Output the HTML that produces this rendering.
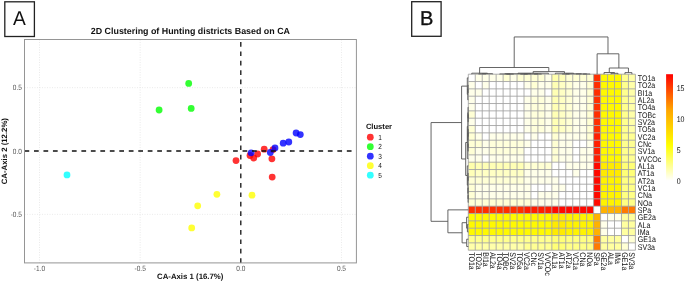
<!DOCTYPE html>
<html><head><meta charset="utf-8"><style>
html,body{margin:0;padding:0;background:#fff;width:685px;height:282px;overflow:hidden}
svg{display:block;will-change:transform;text-rendering:geometricPrecision;font-family:"Liberation Sans",sans-serif}
</style></head><body>
<svg width="685" height="282" viewBox="0 0 685 282">
<rect width="685" height="282" fill="#fff"/>
<rect x="4.8" y="1.8" width="29.6" height="34.7" fill="none" stroke="#222" stroke-width="1.3"/>
<text transform="translate(19.5,24.8) scale(0.96,1)" font-size="20" text-anchor="middle" fill="#111">A</text>
<text x="190.4" y="33.9" font-size="8.9" font-weight="bold" text-anchor="middle" fill="#111">2D Clustering of Hunting districts Based on CA</text>
<line x1="39.50" y1="39.5" x2="39.50" y2="262.9" stroke="#dcdcdc" stroke-width="0.6" stroke-dasharray="1 1.5"/>
<line x1="140.15" y1="39.5" x2="140.15" y2="262.9" stroke="#dcdcdc" stroke-width="0.6" stroke-dasharray="1 1.5"/>
<line x1="341.45" y1="39.5" x2="341.45" y2="262.9" stroke="#dcdcdc" stroke-width="0.6" stroke-dasharray="1 1.5"/>
<line x1="24.5" y1="87.65" x2="356.4" y2="87.65" stroke="#dcdcdc" stroke-width="0.6" stroke-dasharray="1 1.5"/>
<line x1="24.5" y1="214.35" x2="356.4" y2="214.35" stroke="#dcdcdc" stroke-width="0.6" stroke-dasharray="1 1.5"/>
<circle cx="236.0" cy="160.6" r="3.4" fill="#ff0000" fill-opacity="0.8"/>
<circle cx="250.0" cy="155.5" r="3.4" fill="#ff0000" fill-opacity="0.8"/>
<circle cx="253.7" cy="158.0" r="3.4" fill="#ff0000" fill-opacity="0.8"/>
<circle cx="257.6" cy="154.0" r="3.4" fill="#ff0000" fill-opacity="0.8"/>
<circle cx="264.2" cy="149.2" r="3.4" fill="#ff0000" fill-opacity="0.8"/>
<circle cx="273.0" cy="149.6" r="3.4" fill="#ff0000" fill-opacity="0.8"/>
<circle cx="271.9" cy="158.8" r="3.4" fill="#ff0000" fill-opacity="0.8"/>
<circle cx="272.2" cy="177.1" r="3.4" fill="#ff0000" fill-opacity="0.8"/>
<circle cx="188.7" cy="83.4" r="3.4" fill="#00ff00" fill-opacity="0.8"/>
<circle cx="159.1" cy="110.0" r="3.4" fill="#00ff00" fill-opacity="0.8"/>
<circle cx="191.2" cy="108.4" r="3.4" fill="#00ff00" fill-opacity="0.8"/>
<circle cx="251.1" cy="152.8" r="3.4" fill="#0000ff" fill-opacity="0.8"/>
<circle cx="270.3" cy="152.5" r="3.4" fill="#0000ff" fill-opacity="0.8"/>
<circle cx="275.0" cy="147.9" r="3.4" fill="#0000ff" fill-opacity="0.8"/>
<circle cx="283.2" cy="143.2" r="3.4" fill="#0000ff" fill-opacity="0.8"/>
<circle cx="288.8" cy="142.0" r="3.4" fill="#0000ff" fill-opacity="0.8"/>
<circle cx="296.1" cy="133.0" r="3.4" fill="#0000ff" fill-opacity="0.8"/>
<circle cx="300.3" cy="134.6" r="3.4" fill="#0000ff" fill-opacity="0.8"/>
<circle cx="216.9" cy="194.3" r="3.4" fill="#ffff00" fill-opacity="0.8"/>
<circle cx="197.7" cy="205.8" r="3.4" fill="#ffff00" fill-opacity="0.8"/>
<circle cx="191.7" cy="227.9" r="3.4" fill="#ffff00" fill-opacity="0.8"/>
<circle cx="252.0" cy="195.2" r="3.4" fill="#ffff00" fill-opacity="0.8"/>
<circle cx="67.0" cy="174.9" r="3.4" fill="#00ffff" fill-opacity="0.8"/>
<line x1="24.5" y1="151.0" x2="356.4" y2="151.0" stroke="#111" stroke-width="1.3" stroke-dasharray="4.74 4.74"/>
<line x1="240.8" y1="262.9" x2="240.8" y2="39.5" stroke="#111" stroke-width="1.3" stroke-dasharray="4.7 4.7"/>
<rect x="24.5" y="39.5" width="331.90" height="223.40" fill="none" stroke="#959595" stroke-width="1"/>
<text transform="translate(39.50,270.8) scale(0.85,1)" font-size="7.7" text-anchor="middle" fill="#555">-1.0</text>
<text transform="translate(140.15,270.8) scale(0.85,1)" font-size="7.7" text-anchor="middle" fill="#555">-0.5</text>
<text transform="translate(240.80,270.8) scale(0.85,1)" font-size="7.7" text-anchor="middle" fill="#555">0.0</text>
<text transform="translate(341.45,270.8) scale(0.85,1)" font-size="7.7" text-anchor="middle" fill="#555">0.5</text>
<text transform="translate(21.9,90.45) scale(0.85,1)" font-size="7.7" text-anchor="end" fill="#555">0.5</text>
<text transform="translate(21.9,153.80) scale(0.85,1)" font-size="7.7" text-anchor="end" fill="#555">0.0</text>
<text transform="translate(21.9,217.15) scale(0.85,1)" font-size="7.7" text-anchor="end" fill="#555">-0.5</text>
<text x="190.2" y="278.8" font-size="7.8" font-weight="bold" text-anchor="middle" fill="#111">CA-Axis 1 (16.7%)</text>
<text transform="translate(7.2,151.2) rotate(-90)" x="0" y="0" font-size="7.8" font-weight="bold" text-anchor="middle" fill="#111">CA-Axis 2 (12.2%)</text>
<text x="365.9" y="128.5" font-size="7.6" font-weight="bold" fill="#111">Cluster</text>
<circle cx="370.3" cy="137.20" r="3.4" fill="#ff0000" fill-opacity="0.8"/>
<text transform="translate(378.3,139.80) scale(0.88,1)" font-size="7.4" fill="#111">1</text>
<circle cx="370.3" cy="146.70" r="3.4" fill="#00ff00" fill-opacity="0.8"/>
<text transform="translate(378.3,149.30) scale(0.88,1)" font-size="7.4" fill="#111">2</text>
<circle cx="370.3" cy="156.20" r="3.4" fill="#0000ff" fill-opacity="0.8"/>
<text transform="translate(378.3,158.80) scale(0.88,1)" font-size="7.4" fill="#111">3</text>
<circle cx="370.3" cy="165.70" r="3.4" fill="#ffff00" fill-opacity="0.8"/>
<text transform="translate(378.3,168.30) scale(0.88,1)" font-size="7.4" fill="#111">4</text>
<circle cx="370.3" cy="175.20" r="3.4" fill="#00ffff" fill-opacity="0.8"/>
<text transform="translate(378.3,177.80) scale(0.88,1)" font-size="7.4" fill="#111">5</text>
<rect x="411.7" y="1.7" width="29.4" height="34.6" fill="none" stroke="#222" stroke-width="1.3"/>
<text x="426.6" y="24.9" font-size="20" text-anchor="middle" fill="#111" stroke="#111" stroke-width="0.35">B</text>
<rect x="468.30" y="74.20" width="6.96" height="7.33" fill="#ffffff"/>
<rect x="475.26" y="74.20" width="6.96" height="7.33" fill="#ffffe9"/>
<rect x="482.23" y="74.20" width="6.96" height="7.33" fill="#ffffe9"/>
<rect x="489.19" y="74.20" width="6.96" height="7.33" fill="#ffffe9"/>
<rect x="496.15" y="74.20" width="6.96" height="7.33" fill="#ffffe9"/>
<rect x="503.11" y="74.20" width="6.96" height="7.33" fill="#ffffd5"/>
<rect x="510.08" y="74.20" width="6.96" height="7.33" fill="#ffffe9"/>
<rect x="517.04" y="74.20" width="6.96" height="7.33" fill="#ffffd5"/>
<rect x="524.00" y="74.20" width="6.96" height="7.33" fill="#ffffd5"/>
<rect x="530.96" y="74.20" width="6.96" height="7.33" fill="#ffffd5"/>
<rect x="537.92" y="74.20" width="6.96" height="7.33" fill="#ffffd5"/>
<rect x="544.89" y="74.20" width="6.96" height="7.33" fill="#ffffe9"/>
<rect x="551.85" y="74.20" width="6.96" height="7.33" fill="#ffffac"/>
<rect x="558.81" y="74.20" width="6.96" height="7.33" fill="#ffffb8"/>
<rect x="565.77" y="74.20" width="6.96" height="7.33" fill="#ffffd5"/>
<rect x="572.74" y="74.20" width="6.96" height="7.33" fill="#ffffd5"/>
<rect x="579.70" y="74.20" width="6.96" height="7.33" fill="#ffffd5"/>
<rect x="586.66" y="74.20" width="6.96" height="7.33" fill="#ffffd5"/>
<rect x="593.62" y="74.20" width="6.96" height="7.33" fill="#ff2f00"/>
<rect x="600.59" y="74.20" width="6.96" height="7.33" fill="#fff900"/>
<rect x="607.55" y="74.20" width="6.96" height="7.33" fill="#fff900"/>
<rect x="614.51" y="74.20" width="6.96" height="7.33" fill="#fff900"/>
<rect x="621.48" y="74.20" width="6.96" height="7.33" fill="#ffff8e"/>
<rect x="628.44" y="74.20" width="6.96" height="7.33" fill="#ffffa9"/>
<rect x="468.30" y="81.53" width="6.96" height="7.33" fill="#ffffe9"/>
<rect x="475.26" y="81.53" width="6.96" height="7.33" fill="#ffffff"/>
<rect x="482.23" y="81.53" width="6.96" height="7.33" fill="#ffffe9"/>
<rect x="489.19" y="81.53" width="6.96" height="7.33" fill="#ffffff"/>
<rect x="496.15" y="81.53" width="6.96" height="7.33" fill="#ffffff"/>
<rect x="503.11" y="81.53" width="6.96" height="7.33" fill="#ffffff"/>
<rect x="510.08" y="81.53" width="6.96" height="7.33" fill="#ffffff"/>
<rect x="517.04" y="81.53" width="6.96" height="7.33" fill="#ffffff"/>
<rect x="524.00" y="81.53" width="6.96" height="7.33" fill="#ffffe9"/>
<rect x="530.96" y="81.53" width="6.96" height="7.33" fill="#ffffd5"/>
<rect x="537.92" y="81.53" width="6.96" height="7.33" fill="#ffffe9"/>
<rect x="544.89" y="81.53" width="6.96" height="7.33" fill="#ffffe9"/>
<rect x="551.85" y="81.53" width="6.96" height="7.33" fill="#ffffb5"/>
<rect x="558.81" y="81.53" width="6.96" height="7.33" fill="#ffffc4"/>
<rect x="565.77" y="81.53" width="6.96" height="7.33" fill="#ffffd5"/>
<rect x="572.74" y="81.53" width="6.96" height="7.33" fill="#ffffe9"/>
<rect x="579.70" y="81.53" width="6.96" height="7.33" fill="#ffffe9"/>
<rect x="586.66" y="81.53" width="6.96" height="7.33" fill="#ffffd5"/>
<rect x="593.62" y="81.53" width="6.96" height="7.33" fill="#ff2f00"/>
<rect x="600.59" y="81.53" width="6.96" height="7.33" fill="#fff900"/>
<rect x="607.55" y="81.53" width="6.96" height="7.33" fill="#fff900"/>
<rect x="614.51" y="81.53" width="6.96" height="7.33" fill="#fff900"/>
<rect x="621.48" y="81.53" width="6.96" height="7.33" fill="#ffff8e"/>
<rect x="628.44" y="81.53" width="6.96" height="7.33" fill="#ffffa9"/>
<rect x="468.30" y="88.87" width="6.96" height="7.33" fill="#ffffe9"/>
<rect x="475.26" y="88.87" width="6.96" height="7.33" fill="#ffffe9"/>
<rect x="482.23" y="88.87" width="6.96" height="7.33" fill="#ffffff"/>
<rect x="489.19" y="88.87" width="6.96" height="7.33" fill="#ffffff"/>
<rect x="496.15" y="88.87" width="6.96" height="7.33" fill="#ffffff"/>
<rect x="503.11" y="88.87" width="6.96" height="7.33" fill="#ffffff"/>
<rect x="510.08" y="88.87" width="6.96" height="7.33" fill="#ffffff"/>
<rect x="517.04" y="88.87" width="6.96" height="7.33" fill="#ffffff"/>
<rect x="524.00" y="88.87" width="6.96" height="7.33" fill="#ffffff"/>
<rect x="530.96" y="88.87" width="6.96" height="7.33" fill="#ffffe9"/>
<rect x="537.92" y="88.87" width="6.96" height="7.33" fill="#ffffe9"/>
<rect x="544.89" y="88.87" width="6.96" height="7.33" fill="#ffffff"/>
<rect x="551.85" y="88.87" width="6.96" height="7.33" fill="#ffffb5"/>
<rect x="558.81" y="88.87" width="6.96" height="7.33" fill="#ffffc4"/>
<rect x="565.77" y="88.87" width="6.96" height="7.33" fill="#ffffd5"/>
<rect x="572.74" y="88.87" width="6.96" height="7.33" fill="#ffffe9"/>
<rect x="579.70" y="88.87" width="6.96" height="7.33" fill="#ffffe9"/>
<rect x="586.66" y="88.87" width="6.96" height="7.33" fill="#ffffd5"/>
<rect x="593.62" y="88.87" width="6.96" height="7.33" fill="#ff2f00"/>
<rect x="600.59" y="88.87" width="6.96" height="7.33" fill="#fff900"/>
<rect x="607.55" y="88.87" width="6.96" height="7.33" fill="#fff900"/>
<rect x="614.51" y="88.87" width="6.96" height="7.33" fill="#fff900"/>
<rect x="621.48" y="88.87" width="6.96" height="7.33" fill="#ffff8e"/>
<rect x="628.44" y="88.87" width="6.96" height="7.33" fill="#ffffa9"/>
<rect x="468.30" y="96.20" width="6.96" height="7.33" fill="#ffffe9"/>
<rect x="475.26" y="96.20" width="6.96" height="7.33" fill="#ffffff"/>
<rect x="482.23" y="96.20" width="6.96" height="7.33" fill="#ffffff"/>
<rect x="489.19" y="96.20" width="6.96" height="7.33" fill="#ffffff"/>
<rect x="496.15" y="96.20" width="6.96" height="7.33" fill="#ffffff"/>
<rect x="503.11" y="96.20" width="6.96" height="7.33" fill="#ffffff"/>
<rect x="510.08" y="96.20" width="6.96" height="7.33" fill="#ffffff"/>
<rect x="517.04" y="96.20" width="6.96" height="7.33" fill="#ffffff"/>
<rect x="524.00" y="96.20" width="6.96" height="7.33" fill="#ffffe9"/>
<rect x="530.96" y="96.20" width="6.96" height="7.33" fill="#ffffdb"/>
<rect x="537.92" y="96.20" width="6.96" height="7.33" fill="#ffffdb"/>
<rect x="544.89" y="96.20" width="6.96" height="7.33" fill="#ffffe9"/>
<rect x="551.85" y="96.20" width="6.96" height="7.33" fill="#ffffb5"/>
<rect x="558.81" y="96.20" width="6.96" height="7.33" fill="#ffffc4"/>
<rect x="565.77" y="96.20" width="6.96" height="7.33" fill="#ffffd5"/>
<rect x="572.74" y="96.20" width="6.96" height="7.33" fill="#ffffe9"/>
<rect x="579.70" y="96.20" width="6.96" height="7.33" fill="#ffffe9"/>
<rect x="586.66" y="96.20" width="6.96" height="7.33" fill="#ffffd5"/>
<rect x="593.62" y="96.20" width="6.96" height="7.33" fill="#ff2f00"/>
<rect x="600.59" y="96.20" width="6.96" height="7.33" fill="#fff900"/>
<rect x="607.55" y="96.20" width="6.96" height="7.33" fill="#fff900"/>
<rect x="614.51" y="96.20" width="6.96" height="7.33" fill="#fff900"/>
<rect x="621.48" y="96.20" width="6.96" height="7.33" fill="#ffff8e"/>
<rect x="628.44" y="96.20" width="6.96" height="7.33" fill="#ffffa9"/>
<rect x="468.30" y="103.53" width="6.96" height="7.33" fill="#ffffe9"/>
<rect x="475.26" y="103.53" width="6.96" height="7.33" fill="#ffffff"/>
<rect x="482.23" y="103.53" width="6.96" height="7.33" fill="#ffffff"/>
<rect x="489.19" y="103.53" width="6.96" height="7.33" fill="#ffffff"/>
<rect x="496.15" y="103.53" width="6.96" height="7.33" fill="#ffffff"/>
<rect x="503.11" y="103.53" width="6.96" height="7.33" fill="#ffffff"/>
<rect x="510.08" y="103.53" width="6.96" height="7.33" fill="#ffffff"/>
<rect x="517.04" y="103.53" width="6.96" height="7.33" fill="#ffffff"/>
<rect x="524.00" y="103.53" width="6.96" height="7.33" fill="#ffffe9"/>
<rect x="530.96" y="103.53" width="6.96" height="7.33" fill="#ffffdb"/>
<rect x="537.92" y="103.53" width="6.96" height="7.33" fill="#ffffdb"/>
<rect x="544.89" y="103.53" width="6.96" height="7.33" fill="#ffffe9"/>
<rect x="551.85" y="103.53" width="6.96" height="7.33" fill="#ffffb5"/>
<rect x="558.81" y="103.53" width="6.96" height="7.33" fill="#ffffc4"/>
<rect x="565.77" y="103.53" width="6.96" height="7.33" fill="#ffffd5"/>
<rect x="572.74" y="103.53" width="6.96" height="7.33" fill="#ffffe9"/>
<rect x="579.70" y="103.53" width="6.96" height="7.33" fill="#ffffe9"/>
<rect x="586.66" y="103.53" width="6.96" height="7.33" fill="#ffffd5"/>
<rect x="593.62" y="103.53" width="6.96" height="7.33" fill="#ff2f00"/>
<rect x="600.59" y="103.53" width="6.96" height="7.33" fill="#fff900"/>
<rect x="607.55" y="103.53" width="6.96" height="7.33" fill="#fff900"/>
<rect x="614.51" y="103.53" width="6.96" height="7.33" fill="#fff900"/>
<rect x="621.48" y="103.53" width="6.96" height="7.33" fill="#ffff8e"/>
<rect x="628.44" y="103.53" width="6.96" height="7.33" fill="#ffffa9"/>
<rect x="468.30" y="110.87" width="6.96" height="7.33" fill="#ffffd5"/>
<rect x="475.26" y="110.87" width="6.96" height="7.33" fill="#ffffff"/>
<rect x="482.23" y="110.87" width="6.96" height="7.33" fill="#ffffff"/>
<rect x="489.19" y="110.87" width="6.96" height="7.33" fill="#ffffff"/>
<rect x="496.15" y="110.87" width="6.96" height="7.33" fill="#ffffff"/>
<rect x="503.11" y="110.87" width="6.96" height="7.33" fill="#ffffff"/>
<rect x="510.08" y="110.87" width="6.96" height="7.33" fill="#ffffff"/>
<rect x="517.04" y="110.87" width="6.96" height="7.33" fill="#ffffff"/>
<rect x="524.00" y="110.87" width="6.96" height="7.33" fill="#ffffe9"/>
<rect x="530.96" y="110.87" width="6.96" height="7.33" fill="#ffffdb"/>
<rect x="537.92" y="110.87" width="6.96" height="7.33" fill="#ffffdb"/>
<rect x="544.89" y="110.87" width="6.96" height="7.33" fill="#ffffe9"/>
<rect x="551.85" y="110.87" width="6.96" height="7.33" fill="#ffffb5"/>
<rect x="558.81" y="110.87" width="6.96" height="7.33" fill="#ffffc4"/>
<rect x="565.77" y="110.87" width="6.96" height="7.33" fill="#ffffd5"/>
<rect x="572.74" y="110.87" width="6.96" height="7.33" fill="#ffffe9"/>
<rect x="579.70" y="110.87" width="6.96" height="7.33" fill="#ffffe9"/>
<rect x="586.66" y="110.87" width="6.96" height="7.33" fill="#ffffd5"/>
<rect x="593.62" y="110.87" width="6.96" height="7.33" fill="#ff2f00"/>
<rect x="600.59" y="110.87" width="6.96" height="7.33" fill="#fff900"/>
<rect x="607.55" y="110.87" width="6.96" height="7.33" fill="#fff900"/>
<rect x="614.51" y="110.87" width="6.96" height="7.33" fill="#fff900"/>
<rect x="621.48" y="110.87" width="6.96" height="7.33" fill="#ffff8e"/>
<rect x="628.44" y="110.87" width="6.96" height="7.33" fill="#ffffa9"/>
<rect x="468.30" y="118.20" width="6.96" height="7.33" fill="#ffffe9"/>
<rect x="475.26" y="118.20" width="6.96" height="7.33" fill="#ffffff"/>
<rect x="482.23" y="118.20" width="6.96" height="7.33" fill="#ffffff"/>
<rect x="489.19" y="118.20" width="6.96" height="7.33" fill="#ffffff"/>
<rect x="496.15" y="118.20" width="6.96" height="7.33" fill="#ffffff"/>
<rect x="503.11" y="118.20" width="6.96" height="7.33" fill="#ffffff"/>
<rect x="510.08" y="118.20" width="6.96" height="7.33" fill="#ffffff"/>
<rect x="517.04" y="118.20" width="6.96" height="7.33" fill="#ffffff"/>
<rect x="524.00" y="118.20" width="6.96" height="7.33" fill="#ffffe9"/>
<rect x="530.96" y="118.20" width="6.96" height="7.33" fill="#ffffdb"/>
<rect x="537.92" y="118.20" width="6.96" height="7.33" fill="#ffffdb"/>
<rect x="544.89" y="118.20" width="6.96" height="7.33" fill="#ffffe9"/>
<rect x="551.85" y="118.20" width="6.96" height="7.33" fill="#ffffb5"/>
<rect x="558.81" y="118.20" width="6.96" height="7.33" fill="#ffffc4"/>
<rect x="565.77" y="118.20" width="6.96" height="7.33" fill="#ffffd5"/>
<rect x="572.74" y="118.20" width="6.96" height="7.33" fill="#ffffe9"/>
<rect x="579.70" y="118.20" width="6.96" height="7.33" fill="#ffffe9"/>
<rect x="586.66" y="118.20" width="6.96" height="7.33" fill="#ffffd5"/>
<rect x="593.62" y="118.20" width="6.96" height="7.33" fill="#ff2f00"/>
<rect x="600.59" y="118.20" width="6.96" height="7.33" fill="#fff900"/>
<rect x="607.55" y="118.20" width="6.96" height="7.33" fill="#fff900"/>
<rect x="614.51" y="118.20" width="6.96" height="7.33" fill="#fff900"/>
<rect x="621.48" y="118.20" width="6.96" height="7.33" fill="#ffff8e"/>
<rect x="628.44" y="118.20" width="6.96" height="7.33" fill="#ffffa9"/>
<rect x="468.30" y="125.53" width="6.96" height="7.33" fill="#ffffd5"/>
<rect x="475.26" y="125.53" width="6.96" height="7.33" fill="#ffffff"/>
<rect x="482.23" y="125.53" width="6.96" height="7.33" fill="#ffffff"/>
<rect x="489.19" y="125.53" width="6.96" height="7.33" fill="#ffffff"/>
<rect x="496.15" y="125.53" width="6.96" height="7.33" fill="#ffffff"/>
<rect x="503.11" y="125.53" width="6.96" height="7.33" fill="#ffffff"/>
<rect x="510.08" y="125.53" width="6.96" height="7.33" fill="#ffffff"/>
<rect x="517.04" y="125.53" width="6.96" height="7.33" fill="#ffffff"/>
<rect x="524.00" y="125.53" width="6.96" height="7.33" fill="#ffffe9"/>
<rect x="530.96" y="125.53" width="6.96" height="7.33" fill="#ffffdb"/>
<rect x="537.92" y="125.53" width="6.96" height="7.33" fill="#ffffdb"/>
<rect x="544.89" y="125.53" width="6.96" height="7.33" fill="#ffffe9"/>
<rect x="551.85" y="125.53" width="6.96" height="7.33" fill="#ffffb5"/>
<rect x="558.81" y="125.53" width="6.96" height="7.33" fill="#ffffc4"/>
<rect x="565.77" y="125.53" width="6.96" height="7.33" fill="#ffffd5"/>
<rect x="572.74" y="125.53" width="6.96" height="7.33" fill="#ffffe9"/>
<rect x="579.70" y="125.53" width="6.96" height="7.33" fill="#ffffe9"/>
<rect x="586.66" y="125.53" width="6.96" height="7.33" fill="#ffffd5"/>
<rect x="593.62" y="125.53" width="6.96" height="7.33" fill="#ff2f00"/>
<rect x="600.59" y="125.53" width="6.96" height="7.33" fill="#fff900"/>
<rect x="607.55" y="125.53" width="6.96" height="7.33" fill="#fff900"/>
<rect x="614.51" y="125.53" width="6.96" height="7.33" fill="#fff900"/>
<rect x="621.48" y="125.53" width="6.96" height="7.33" fill="#ffff8e"/>
<rect x="628.44" y="125.53" width="6.96" height="7.33" fill="#ffffa9"/>
<rect x="468.30" y="132.86" width="6.96" height="7.33" fill="#ffffd5"/>
<rect x="475.26" y="132.86" width="6.96" height="7.33" fill="#ffffe9"/>
<rect x="482.23" y="132.86" width="6.96" height="7.33" fill="#ffffff"/>
<rect x="489.19" y="132.86" width="6.96" height="7.33" fill="#ffffe9"/>
<rect x="496.15" y="132.86" width="6.96" height="7.33" fill="#ffffe9"/>
<rect x="503.11" y="132.86" width="6.96" height="7.33" fill="#ffffe9"/>
<rect x="510.08" y="132.86" width="6.96" height="7.33" fill="#ffffe9"/>
<rect x="517.04" y="132.86" width="6.96" height="7.33" fill="#ffffe9"/>
<rect x="524.00" y="132.86" width="6.96" height="7.33" fill="#ffffff"/>
<rect x="530.96" y="132.86" width="6.96" height="7.33" fill="#ffffe9"/>
<rect x="537.92" y="132.86" width="6.96" height="7.33" fill="#ffffff"/>
<rect x="544.89" y="132.86" width="6.96" height="7.33" fill="#ffffff"/>
<rect x="551.85" y="132.86" width="6.96" height="7.33" fill="#ffffd3"/>
<rect x="558.81" y="132.86" width="6.96" height="7.33" fill="#ffffe9"/>
<rect x="565.77" y="132.86" width="6.96" height="7.33" fill="#ffffe9"/>
<rect x="572.74" y="132.86" width="6.96" height="7.33" fill="#ffffe9"/>
<rect x="579.70" y="132.86" width="6.96" height="7.33" fill="#ffffe9"/>
<rect x="586.66" y="132.86" width="6.96" height="7.33" fill="#ffffd5"/>
<rect x="593.62" y="132.86" width="6.96" height="7.33" fill="#ff1e00"/>
<rect x="600.59" y="132.86" width="6.96" height="7.33" fill="#fff900"/>
<rect x="607.55" y="132.86" width="6.96" height="7.33" fill="#fff900"/>
<rect x="614.51" y="132.86" width="6.96" height="7.33" fill="#fff900"/>
<rect x="621.48" y="132.86" width="6.96" height="7.33" fill="#ffff8e"/>
<rect x="628.44" y="132.86" width="6.96" height="7.33" fill="#ffff94"/>
<rect x="468.30" y="140.20" width="6.96" height="7.33" fill="#ffffd5"/>
<rect x="475.26" y="140.20" width="6.96" height="7.33" fill="#ffffd5"/>
<rect x="482.23" y="140.20" width="6.96" height="7.33" fill="#ffffe9"/>
<rect x="489.19" y="140.20" width="6.96" height="7.33" fill="#ffffdb"/>
<rect x="496.15" y="140.20" width="6.96" height="7.33" fill="#ffffdb"/>
<rect x="503.11" y="140.20" width="6.96" height="7.33" fill="#ffffdb"/>
<rect x="510.08" y="140.20" width="6.96" height="7.33" fill="#ffffdb"/>
<rect x="517.04" y="140.20" width="6.96" height="7.33" fill="#ffffdb"/>
<rect x="524.00" y="140.20" width="6.96" height="7.33" fill="#ffffe9"/>
<rect x="530.96" y="140.20" width="6.96" height="7.33" fill="#ffffff"/>
<rect x="537.92" y="140.20" width="6.96" height="7.33" fill="#ffffff"/>
<rect x="544.89" y="140.20" width="6.96" height="7.33" fill="#ffffff"/>
<rect x="551.85" y="140.20" width="6.96" height="7.33" fill="#ffffd3"/>
<rect x="558.81" y="140.20" width="6.96" height="7.33" fill="#ffffe9"/>
<rect x="565.77" y="140.20" width="6.96" height="7.33" fill="#ffffe9"/>
<rect x="572.74" y="140.20" width="6.96" height="7.33" fill="#ffffff"/>
<rect x="579.70" y="140.20" width="6.96" height="7.33" fill="#ffffff"/>
<rect x="586.66" y="140.20" width="6.96" height="7.33" fill="#ffffe9"/>
<rect x="593.62" y="140.20" width="6.96" height="7.33" fill="#ff1e00"/>
<rect x="600.59" y="140.20" width="6.96" height="7.33" fill="#fff900"/>
<rect x="607.55" y="140.20" width="6.96" height="7.33" fill="#fff900"/>
<rect x="614.51" y="140.20" width="6.96" height="7.33" fill="#fff900"/>
<rect x="621.48" y="140.20" width="6.96" height="7.33" fill="#ffff8e"/>
<rect x="628.44" y="140.20" width="6.96" height="7.33" fill="#ffff94"/>
<rect x="468.30" y="147.53" width="6.96" height="7.33" fill="#ffffd5"/>
<rect x="475.26" y="147.53" width="6.96" height="7.33" fill="#ffffe9"/>
<rect x="482.23" y="147.53" width="6.96" height="7.33" fill="#ffffe9"/>
<rect x="489.19" y="147.53" width="6.96" height="7.33" fill="#ffffdb"/>
<rect x="496.15" y="147.53" width="6.96" height="7.33" fill="#ffffdb"/>
<rect x="503.11" y="147.53" width="6.96" height="7.33" fill="#ffffdb"/>
<rect x="510.08" y="147.53" width="6.96" height="7.33" fill="#ffffdb"/>
<rect x="517.04" y="147.53" width="6.96" height="7.33" fill="#ffffdb"/>
<rect x="524.00" y="147.53" width="6.96" height="7.33" fill="#ffffff"/>
<rect x="530.96" y="147.53" width="6.96" height="7.33" fill="#ffffff"/>
<rect x="537.92" y="147.53" width="6.96" height="7.33" fill="#ffffff"/>
<rect x="544.89" y="147.53" width="6.96" height="7.33" fill="#ffffff"/>
<rect x="551.85" y="147.53" width="6.96" height="7.33" fill="#ffffd3"/>
<rect x="558.81" y="147.53" width="6.96" height="7.33" fill="#ffffe9"/>
<rect x="565.77" y="147.53" width="6.96" height="7.33" fill="#ffffe9"/>
<rect x="572.74" y="147.53" width="6.96" height="7.33" fill="#ffffff"/>
<rect x="579.70" y="147.53" width="6.96" height="7.33" fill="#ffffe9"/>
<rect x="586.66" y="147.53" width="6.96" height="7.33" fill="#ffffe9"/>
<rect x="593.62" y="147.53" width="6.96" height="7.33" fill="#ff1e00"/>
<rect x="600.59" y="147.53" width="6.96" height="7.33" fill="#fff900"/>
<rect x="607.55" y="147.53" width="6.96" height="7.33" fill="#fff900"/>
<rect x="614.51" y="147.53" width="6.96" height="7.33" fill="#fff900"/>
<rect x="621.48" y="147.53" width="6.96" height="7.33" fill="#ffff8e"/>
<rect x="628.44" y="147.53" width="6.96" height="7.33" fill="#ffff94"/>
<rect x="468.30" y="154.86" width="6.96" height="7.33" fill="#ffffe9"/>
<rect x="475.26" y="154.86" width="6.96" height="7.33" fill="#ffffe9"/>
<rect x="482.23" y="154.86" width="6.96" height="7.33" fill="#ffffff"/>
<rect x="489.19" y="154.86" width="6.96" height="7.33" fill="#ffffe9"/>
<rect x="496.15" y="154.86" width="6.96" height="7.33" fill="#ffffe9"/>
<rect x="503.11" y="154.86" width="6.96" height="7.33" fill="#ffffe9"/>
<rect x="510.08" y="154.86" width="6.96" height="7.33" fill="#ffffe9"/>
<rect x="517.04" y="154.86" width="6.96" height="7.33" fill="#ffffe9"/>
<rect x="524.00" y="154.86" width="6.96" height="7.33" fill="#ffffff"/>
<rect x="530.96" y="154.86" width="6.96" height="7.33" fill="#ffffff"/>
<rect x="537.92" y="154.86" width="6.96" height="7.33" fill="#ffffff"/>
<rect x="544.89" y="154.86" width="6.96" height="7.33" fill="#ffffff"/>
<rect x="551.85" y="154.86" width="6.96" height="7.33" fill="#ffffd3"/>
<rect x="558.81" y="154.86" width="6.96" height="7.33" fill="#ffffe9"/>
<rect x="565.77" y="154.86" width="6.96" height="7.33" fill="#ffffe9"/>
<rect x="572.74" y="154.86" width="6.96" height="7.33" fill="#ffffff"/>
<rect x="579.70" y="154.86" width="6.96" height="7.33" fill="#ffffe9"/>
<rect x="586.66" y="154.86" width="6.96" height="7.33" fill="#ffffe9"/>
<rect x="593.62" y="154.86" width="6.96" height="7.33" fill="#ff1e00"/>
<rect x="600.59" y="154.86" width="6.96" height="7.33" fill="#fff900"/>
<rect x="607.55" y="154.86" width="6.96" height="7.33" fill="#fff900"/>
<rect x="614.51" y="154.86" width="6.96" height="7.33" fill="#fff900"/>
<rect x="621.48" y="154.86" width="6.96" height="7.33" fill="#ffff8e"/>
<rect x="628.44" y="154.86" width="6.96" height="7.33" fill="#ffff94"/>
<rect x="468.30" y="162.20" width="6.96" height="7.33" fill="#ffffac"/>
<rect x="475.26" y="162.20" width="6.96" height="7.33" fill="#ffffb5"/>
<rect x="482.23" y="162.20" width="6.96" height="7.33" fill="#ffffb5"/>
<rect x="489.19" y="162.20" width="6.96" height="7.33" fill="#ffffb5"/>
<rect x="496.15" y="162.20" width="6.96" height="7.33" fill="#ffffb5"/>
<rect x="503.11" y="162.20" width="6.96" height="7.33" fill="#ffffb5"/>
<rect x="510.08" y="162.20" width="6.96" height="7.33" fill="#ffffb5"/>
<rect x="517.04" y="162.20" width="6.96" height="7.33" fill="#ffffb5"/>
<rect x="524.00" y="162.20" width="6.96" height="7.33" fill="#ffffd3"/>
<rect x="530.96" y="162.20" width="6.96" height="7.33" fill="#ffffd3"/>
<rect x="537.92" y="162.20" width="6.96" height="7.33" fill="#ffffd3"/>
<rect x="544.89" y="162.20" width="6.96" height="7.33" fill="#ffffd3"/>
<rect x="551.85" y="162.20" width="6.96" height="7.33" fill="#ffffff"/>
<rect x="558.81" y="162.20" width="6.96" height="7.33" fill="#ffffff"/>
<rect x="565.77" y="162.20" width="6.96" height="7.33" fill="#ffffe9"/>
<rect x="572.74" y="162.20" width="6.96" height="7.33" fill="#ffffe9"/>
<rect x="579.70" y="162.20" width="6.96" height="7.33" fill="#ffffe9"/>
<rect x="586.66" y="162.20" width="6.96" height="7.33" fill="#ffffe9"/>
<rect x="593.62" y="162.20" width="6.96" height="7.33" fill="#ff0900"/>
<rect x="600.59" y="162.20" width="6.96" height="7.33" fill="#ffea00"/>
<rect x="607.55" y="162.20" width="6.96" height="7.33" fill="#ffea00"/>
<rect x="614.51" y="162.20" width="6.96" height="7.33" fill="#ffea00"/>
<rect x="621.48" y="162.20" width="6.96" height="7.33" fill="#ffff77"/>
<rect x="628.44" y="162.20" width="6.96" height="7.33" fill="#ffff77"/>
<rect x="468.30" y="169.53" width="6.96" height="7.33" fill="#ffffb8"/>
<rect x="475.26" y="169.53" width="6.96" height="7.33" fill="#ffffc4"/>
<rect x="482.23" y="169.53" width="6.96" height="7.33" fill="#ffffc4"/>
<rect x="489.19" y="169.53" width="6.96" height="7.33" fill="#ffffc4"/>
<rect x="496.15" y="169.53" width="6.96" height="7.33" fill="#ffffc4"/>
<rect x="503.11" y="169.53" width="6.96" height="7.33" fill="#ffffc4"/>
<rect x="510.08" y="169.53" width="6.96" height="7.33" fill="#ffffc4"/>
<rect x="517.04" y="169.53" width="6.96" height="7.33" fill="#ffffc4"/>
<rect x="524.00" y="169.53" width="6.96" height="7.33" fill="#ffffe9"/>
<rect x="530.96" y="169.53" width="6.96" height="7.33" fill="#ffffe9"/>
<rect x="537.92" y="169.53" width="6.96" height="7.33" fill="#ffffe9"/>
<rect x="544.89" y="169.53" width="6.96" height="7.33" fill="#ffffe9"/>
<rect x="551.85" y="169.53" width="6.96" height="7.33" fill="#ffffff"/>
<rect x="558.81" y="169.53" width="6.96" height="7.33" fill="#ffffff"/>
<rect x="565.77" y="169.53" width="6.96" height="7.33" fill="#ffffff"/>
<rect x="572.74" y="169.53" width="6.96" height="7.33" fill="#ffffe9"/>
<rect x="579.70" y="169.53" width="6.96" height="7.33" fill="#ffffff"/>
<rect x="586.66" y="169.53" width="6.96" height="7.33" fill="#ffffff"/>
<rect x="593.62" y="169.53" width="6.96" height="7.33" fill="#ff0900"/>
<rect x="600.59" y="169.53" width="6.96" height="7.33" fill="#ffea00"/>
<rect x="607.55" y="169.53" width="6.96" height="7.33" fill="#ffea00"/>
<rect x="614.51" y="169.53" width="6.96" height="7.33" fill="#ffea00"/>
<rect x="621.48" y="169.53" width="6.96" height="7.33" fill="#ffff77"/>
<rect x="628.44" y="169.53" width="6.96" height="7.33" fill="#ffff77"/>
<rect x="468.30" y="176.86" width="6.96" height="7.33" fill="#ffffd5"/>
<rect x="475.26" y="176.86" width="6.96" height="7.33" fill="#ffffd5"/>
<rect x="482.23" y="176.86" width="6.96" height="7.33" fill="#ffffd5"/>
<rect x="489.19" y="176.86" width="6.96" height="7.33" fill="#ffffd5"/>
<rect x="496.15" y="176.86" width="6.96" height="7.33" fill="#ffffd5"/>
<rect x="503.11" y="176.86" width="6.96" height="7.33" fill="#ffffd5"/>
<rect x="510.08" y="176.86" width="6.96" height="7.33" fill="#ffffd5"/>
<rect x="517.04" y="176.86" width="6.96" height="7.33" fill="#ffffd5"/>
<rect x="524.00" y="176.86" width="6.96" height="7.33" fill="#ffffe9"/>
<rect x="530.96" y="176.86" width="6.96" height="7.33" fill="#ffffe9"/>
<rect x="537.92" y="176.86" width="6.96" height="7.33" fill="#ffffe9"/>
<rect x="544.89" y="176.86" width="6.96" height="7.33" fill="#ffffe9"/>
<rect x="551.85" y="176.86" width="6.96" height="7.33" fill="#ffffe9"/>
<rect x="558.81" y="176.86" width="6.96" height="7.33" fill="#ffffff"/>
<rect x="565.77" y="176.86" width="6.96" height="7.33" fill="#ffffff"/>
<rect x="572.74" y="176.86" width="6.96" height="7.33" fill="#ffffff"/>
<rect x="579.70" y="176.86" width="6.96" height="7.33" fill="#ffffff"/>
<rect x="586.66" y="176.86" width="6.96" height="7.33" fill="#ffffff"/>
<rect x="593.62" y="176.86" width="6.96" height="7.33" fill="#ff0900"/>
<rect x="600.59" y="176.86" width="6.96" height="7.33" fill="#fff300"/>
<rect x="607.55" y="176.86" width="6.96" height="7.33" fill="#fff300"/>
<rect x="614.51" y="176.86" width="6.96" height="7.33" fill="#fff300"/>
<rect x="621.48" y="176.86" width="6.96" height="7.33" fill="#ffff82"/>
<rect x="628.44" y="176.86" width="6.96" height="7.33" fill="#ffff88"/>
<rect x="468.30" y="184.19" width="6.96" height="7.33" fill="#ffffd5"/>
<rect x="475.26" y="184.19" width="6.96" height="7.33" fill="#ffffe9"/>
<rect x="482.23" y="184.19" width="6.96" height="7.33" fill="#ffffe9"/>
<rect x="489.19" y="184.19" width="6.96" height="7.33" fill="#ffffe9"/>
<rect x="496.15" y="184.19" width="6.96" height="7.33" fill="#ffffe9"/>
<rect x="503.11" y="184.19" width="6.96" height="7.33" fill="#ffffe9"/>
<rect x="510.08" y="184.19" width="6.96" height="7.33" fill="#ffffe9"/>
<rect x="517.04" y="184.19" width="6.96" height="7.33" fill="#ffffe9"/>
<rect x="524.00" y="184.19" width="6.96" height="7.33" fill="#ffffe9"/>
<rect x="530.96" y="184.19" width="6.96" height="7.33" fill="#ffffff"/>
<rect x="537.92" y="184.19" width="6.96" height="7.33" fill="#ffffff"/>
<rect x="544.89" y="184.19" width="6.96" height="7.33" fill="#ffffff"/>
<rect x="551.85" y="184.19" width="6.96" height="7.33" fill="#ffffe9"/>
<rect x="558.81" y="184.19" width="6.96" height="7.33" fill="#ffffe9"/>
<rect x="565.77" y="184.19" width="6.96" height="7.33" fill="#ffffff"/>
<rect x="572.74" y="184.19" width="6.96" height="7.33" fill="#ffffff"/>
<rect x="579.70" y="184.19" width="6.96" height="7.33" fill="#ffffff"/>
<rect x="586.66" y="184.19" width="6.96" height="7.33" fill="#ffffff"/>
<rect x="593.62" y="184.19" width="6.96" height="7.33" fill="#ff0900"/>
<rect x="600.59" y="184.19" width="6.96" height="7.33" fill="#fff300"/>
<rect x="607.55" y="184.19" width="6.96" height="7.33" fill="#fff300"/>
<rect x="614.51" y="184.19" width="6.96" height="7.33" fill="#fff300"/>
<rect x="621.48" y="184.19" width="6.96" height="7.33" fill="#ffff82"/>
<rect x="628.44" y="184.19" width="6.96" height="7.33" fill="#ffff88"/>
<rect x="468.30" y="191.53" width="6.96" height="7.33" fill="#ffffd5"/>
<rect x="475.26" y="191.53" width="6.96" height="7.33" fill="#ffffe9"/>
<rect x="482.23" y="191.53" width="6.96" height="7.33" fill="#ffffe9"/>
<rect x="489.19" y="191.53" width="6.96" height="7.33" fill="#ffffe9"/>
<rect x="496.15" y="191.53" width="6.96" height="7.33" fill="#ffffe9"/>
<rect x="503.11" y="191.53" width="6.96" height="7.33" fill="#ffffe9"/>
<rect x="510.08" y="191.53" width="6.96" height="7.33" fill="#ffffe9"/>
<rect x="517.04" y="191.53" width="6.96" height="7.33" fill="#ffffe9"/>
<rect x="524.00" y="191.53" width="6.96" height="7.33" fill="#ffffe9"/>
<rect x="530.96" y="191.53" width="6.96" height="7.33" fill="#ffffff"/>
<rect x="537.92" y="191.53" width="6.96" height="7.33" fill="#ffffe9"/>
<rect x="544.89" y="191.53" width="6.96" height="7.33" fill="#ffffe9"/>
<rect x="551.85" y="191.53" width="6.96" height="7.33" fill="#ffffe9"/>
<rect x="558.81" y="191.53" width="6.96" height="7.33" fill="#ffffff"/>
<rect x="565.77" y="191.53" width="6.96" height="7.33" fill="#ffffff"/>
<rect x="572.74" y="191.53" width="6.96" height="7.33" fill="#ffffff"/>
<rect x="579.70" y="191.53" width="6.96" height="7.33" fill="#ffffff"/>
<rect x="586.66" y="191.53" width="6.96" height="7.33" fill="#ffffff"/>
<rect x="593.62" y="191.53" width="6.96" height="7.33" fill="#ff0900"/>
<rect x="600.59" y="191.53" width="6.96" height="7.33" fill="#fff300"/>
<rect x="607.55" y="191.53" width="6.96" height="7.33" fill="#fff300"/>
<rect x="614.51" y="191.53" width="6.96" height="7.33" fill="#fff300"/>
<rect x="621.48" y="191.53" width="6.96" height="7.33" fill="#ffff82"/>
<rect x="628.44" y="191.53" width="6.96" height="7.33" fill="#ffff88"/>
<rect x="468.30" y="198.86" width="6.96" height="7.33" fill="#ffffd5"/>
<rect x="475.26" y="198.86" width="6.96" height="7.33" fill="#ffffd5"/>
<rect x="482.23" y="198.86" width="6.96" height="7.33" fill="#ffffd5"/>
<rect x="489.19" y="198.86" width="6.96" height="7.33" fill="#ffffd5"/>
<rect x="496.15" y="198.86" width="6.96" height="7.33" fill="#ffffd5"/>
<rect x="503.11" y="198.86" width="6.96" height="7.33" fill="#ffffd5"/>
<rect x="510.08" y="198.86" width="6.96" height="7.33" fill="#ffffd5"/>
<rect x="517.04" y="198.86" width="6.96" height="7.33" fill="#ffffd5"/>
<rect x="524.00" y="198.86" width="6.96" height="7.33" fill="#ffffd5"/>
<rect x="530.96" y="198.86" width="6.96" height="7.33" fill="#ffffe9"/>
<rect x="537.92" y="198.86" width="6.96" height="7.33" fill="#ffffe9"/>
<rect x="544.89" y="198.86" width="6.96" height="7.33" fill="#ffffe9"/>
<rect x="551.85" y="198.86" width="6.96" height="7.33" fill="#ffffe9"/>
<rect x="558.81" y="198.86" width="6.96" height="7.33" fill="#ffffff"/>
<rect x="565.77" y="198.86" width="6.96" height="7.33" fill="#ffffff"/>
<rect x="572.74" y="198.86" width="6.96" height="7.33" fill="#ffffff"/>
<rect x="579.70" y="198.86" width="6.96" height="7.33" fill="#ffffff"/>
<rect x="586.66" y="198.86" width="6.96" height="7.33" fill="#ffffff"/>
<rect x="593.62" y="198.86" width="6.96" height="7.33" fill="#ff0900"/>
<rect x="600.59" y="198.86" width="6.96" height="7.33" fill="#fff300"/>
<rect x="607.55" y="198.86" width="6.96" height="7.33" fill="#fff300"/>
<rect x="614.51" y="198.86" width="6.96" height="7.33" fill="#fff300"/>
<rect x="621.48" y="198.86" width="6.96" height="7.33" fill="#ffff82"/>
<rect x="628.44" y="198.86" width="6.96" height="7.33" fill="#ffff88"/>
<rect x="468.30" y="206.19" width="6.96" height="7.33" fill="#ff2f00"/>
<rect x="475.26" y="206.19" width="6.96" height="7.33" fill="#ff2f00"/>
<rect x="482.23" y="206.19" width="6.96" height="7.33" fill="#ff2f00"/>
<rect x="489.19" y="206.19" width="6.96" height="7.33" fill="#ff2f00"/>
<rect x="496.15" y="206.19" width="6.96" height="7.33" fill="#ff2f00"/>
<rect x="503.11" y="206.19" width="6.96" height="7.33" fill="#ff2f00"/>
<rect x="510.08" y="206.19" width="6.96" height="7.33" fill="#ff2f00"/>
<rect x="517.04" y="206.19" width="6.96" height="7.33" fill="#ff2f00"/>
<rect x="524.00" y="206.19" width="6.96" height="7.33" fill="#ff1e00"/>
<rect x="530.96" y="206.19" width="6.96" height="7.33" fill="#ff1e00"/>
<rect x="537.92" y="206.19" width="6.96" height="7.33" fill="#ff1e00"/>
<rect x="544.89" y="206.19" width="6.96" height="7.33" fill="#ff1e00"/>
<rect x="551.85" y="206.19" width="6.96" height="7.33" fill="#ff0900"/>
<rect x="558.81" y="206.19" width="6.96" height="7.33" fill="#ff0900"/>
<rect x="565.77" y="206.19" width="6.96" height="7.33" fill="#ff0900"/>
<rect x="572.74" y="206.19" width="6.96" height="7.33" fill="#ff0900"/>
<rect x="579.70" y="206.19" width="6.96" height="7.33" fill="#ff0900"/>
<rect x="586.66" y="206.19" width="6.96" height="7.33" fill="#ff0900"/>
<rect x="593.62" y="206.19" width="6.96" height="7.33" fill="#ffffff"/>
<rect x="600.59" y="206.19" width="6.96" height="7.33" fill="#ffb200"/>
<rect x="607.55" y="206.19" width="6.96" height="7.33" fill="#ffb200"/>
<rect x="614.51" y="206.19" width="6.96" height="7.33" fill="#ffb200"/>
<rect x="621.48" y="206.19" width="6.96" height="7.33" fill="#ff7a00"/>
<rect x="628.44" y="206.19" width="6.96" height="7.33" fill="#ff7a00"/>
<rect x="468.30" y="213.53" width="6.96" height="7.33" fill="#fff900"/>
<rect x="475.26" y="213.53" width="6.96" height="7.33" fill="#fff900"/>
<rect x="482.23" y="213.53" width="6.96" height="7.33" fill="#fff900"/>
<rect x="489.19" y="213.53" width="6.96" height="7.33" fill="#fff900"/>
<rect x="496.15" y="213.53" width="6.96" height="7.33" fill="#fff900"/>
<rect x="503.11" y="213.53" width="6.96" height="7.33" fill="#fff900"/>
<rect x="510.08" y="213.53" width="6.96" height="7.33" fill="#fff900"/>
<rect x="517.04" y="213.53" width="6.96" height="7.33" fill="#fff900"/>
<rect x="524.00" y="213.53" width="6.96" height="7.33" fill="#fff900"/>
<rect x="530.96" y="213.53" width="6.96" height="7.33" fill="#fff900"/>
<rect x="537.92" y="213.53" width="6.96" height="7.33" fill="#fff900"/>
<rect x="544.89" y="213.53" width="6.96" height="7.33" fill="#fff900"/>
<rect x="551.85" y="213.53" width="6.96" height="7.33" fill="#ffea00"/>
<rect x="558.81" y="213.53" width="6.96" height="7.33" fill="#ffea00"/>
<rect x="565.77" y="213.53" width="6.96" height="7.33" fill="#fff300"/>
<rect x="572.74" y="213.53" width="6.96" height="7.33" fill="#fff300"/>
<rect x="579.70" y="213.53" width="6.96" height="7.33" fill="#fff300"/>
<rect x="586.66" y="213.53" width="6.96" height="7.33" fill="#fff300"/>
<rect x="593.62" y="213.53" width="6.96" height="7.33" fill="#ffb200"/>
<rect x="600.59" y="213.53" width="6.96" height="7.33" fill="#ffffff"/>
<rect x="607.55" y="213.53" width="6.96" height="7.33" fill="#ffffe9"/>
<rect x="614.51" y="213.53" width="6.96" height="7.33" fill="#ffffe9"/>
<rect x="621.48" y="213.53" width="6.96" height="7.33" fill="#ffffa0"/>
<rect x="628.44" y="213.53" width="6.96" height="7.33" fill="#ffffa0"/>
<rect x="468.30" y="220.86" width="6.96" height="7.33" fill="#fff900"/>
<rect x="475.26" y="220.86" width="6.96" height="7.33" fill="#fff900"/>
<rect x="482.23" y="220.86" width="6.96" height="7.33" fill="#fff900"/>
<rect x="489.19" y="220.86" width="6.96" height="7.33" fill="#fff900"/>
<rect x="496.15" y="220.86" width="6.96" height="7.33" fill="#fff900"/>
<rect x="503.11" y="220.86" width="6.96" height="7.33" fill="#fff900"/>
<rect x="510.08" y="220.86" width="6.96" height="7.33" fill="#fff900"/>
<rect x="517.04" y="220.86" width="6.96" height="7.33" fill="#fff900"/>
<rect x="524.00" y="220.86" width="6.96" height="7.33" fill="#fff900"/>
<rect x="530.96" y="220.86" width="6.96" height="7.33" fill="#fff900"/>
<rect x="537.92" y="220.86" width="6.96" height="7.33" fill="#fff900"/>
<rect x="544.89" y="220.86" width="6.96" height="7.33" fill="#fff900"/>
<rect x="551.85" y="220.86" width="6.96" height="7.33" fill="#ffea00"/>
<rect x="558.81" y="220.86" width="6.96" height="7.33" fill="#ffea00"/>
<rect x="565.77" y="220.86" width="6.96" height="7.33" fill="#fff300"/>
<rect x="572.74" y="220.86" width="6.96" height="7.33" fill="#fff300"/>
<rect x="579.70" y="220.86" width="6.96" height="7.33" fill="#fff300"/>
<rect x="586.66" y="220.86" width="6.96" height="7.33" fill="#fff300"/>
<rect x="593.62" y="220.86" width="6.96" height="7.33" fill="#ffb200"/>
<rect x="600.59" y="220.86" width="6.96" height="7.33" fill="#ffffe9"/>
<rect x="607.55" y="220.86" width="6.96" height="7.33" fill="#ffffff"/>
<rect x="614.51" y="220.86" width="6.96" height="7.33" fill="#ffffff"/>
<rect x="621.48" y="220.86" width="6.96" height="7.33" fill="#ffffa0"/>
<rect x="628.44" y="220.86" width="6.96" height="7.33" fill="#ffffa0"/>
<rect x="468.30" y="228.19" width="6.96" height="7.33" fill="#fff900"/>
<rect x="475.26" y="228.19" width="6.96" height="7.33" fill="#fff900"/>
<rect x="482.23" y="228.19" width="6.96" height="7.33" fill="#fff900"/>
<rect x="489.19" y="228.19" width="6.96" height="7.33" fill="#fff900"/>
<rect x="496.15" y="228.19" width="6.96" height="7.33" fill="#fff900"/>
<rect x="503.11" y="228.19" width="6.96" height="7.33" fill="#fff900"/>
<rect x="510.08" y="228.19" width="6.96" height="7.33" fill="#fff900"/>
<rect x="517.04" y="228.19" width="6.96" height="7.33" fill="#fff900"/>
<rect x="524.00" y="228.19" width="6.96" height="7.33" fill="#fff900"/>
<rect x="530.96" y="228.19" width="6.96" height="7.33" fill="#fff900"/>
<rect x="537.92" y="228.19" width="6.96" height="7.33" fill="#fff900"/>
<rect x="544.89" y="228.19" width="6.96" height="7.33" fill="#fff900"/>
<rect x="551.85" y="228.19" width="6.96" height="7.33" fill="#ffea00"/>
<rect x="558.81" y="228.19" width="6.96" height="7.33" fill="#ffea00"/>
<rect x="565.77" y="228.19" width="6.96" height="7.33" fill="#fff300"/>
<rect x="572.74" y="228.19" width="6.96" height="7.33" fill="#fff300"/>
<rect x="579.70" y="228.19" width="6.96" height="7.33" fill="#fff300"/>
<rect x="586.66" y="228.19" width="6.96" height="7.33" fill="#fff300"/>
<rect x="593.62" y="228.19" width="6.96" height="7.33" fill="#ffb200"/>
<rect x="600.59" y="228.19" width="6.96" height="7.33" fill="#ffffe9"/>
<rect x="607.55" y="228.19" width="6.96" height="7.33" fill="#ffffff"/>
<rect x="614.51" y="228.19" width="6.96" height="7.33" fill="#ffffff"/>
<rect x="621.48" y="228.19" width="6.96" height="7.33" fill="#ffffa0"/>
<rect x="628.44" y="228.19" width="6.96" height="7.33" fill="#ffffa0"/>
<rect x="468.30" y="235.53" width="6.96" height="7.33" fill="#ffff8e"/>
<rect x="475.26" y="235.53" width="6.96" height="7.33" fill="#ffff8e"/>
<rect x="482.23" y="235.53" width="6.96" height="7.33" fill="#ffff8e"/>
<rect x="489.19" y="235.53" width="6.96" height="7.33" fill="#ffff8e"/>
<rect x="496.15" y="235.53" width="6.96" height="7.33" fill="#ffff8e"/>
<rect x="503.11" y="235.53" width="6.96" height="7.33" fill="#ffff8e"/>
<rect x="510.08" y="235.53" width="6.96" height="7.33" fill="#ffff8e"/>
<rect x="517.04" y="235.53" width="6.96" height="7.33" fill="#ffff8e"/>
<rect x="524.00" y="235.53" width="6.96" height="7.33" fill="#ffff8e"/>
<rect x="530.96" y="235.53" width="6.96" height="7.33" fill="#ffff8e"/>
<rect x="537.92" y="235.53" width="6.96" height="7.33" fill="#ffff8e"/>
<rect x="544.89" y="235.53" width="6.96" height="7.33" fill="#ffff8e"/>
<rect x="551.85" y="235.53" width="6.96" height="7.33" fill="#ffff77"/>
<rect x="558.81" y="235.53" width="6.96" height="7.33" fill="#ffff77"/>
<rect x="565.77" y="235.53" width="6.96" height="7.33" fill="#ffff82"/>
<rect x="572.74" y="235.53" width="6.96" height="7.33" fill="#ffff82"/>
<rect x="579.70" y="235.53" width="6.96" height="7.33" fill="#ffff82"/>
<rect x="586.66" y="235.53" width="6.96" height="7.33" fill="#ffff82"/>
<rect x="593.62" y="235.53" width="6.96" height="7.33" fill="#ff7a00"/>
<rect x="600.59" y="235.53" width="6.96" height="7.33" fill="#ffffa0"/>
<rect x="607.55" y="235.53" width="6.96" height="7.33" fill="#ffffa0"/>
<rect x="614.51" y="235.53" width="6.96" height="7.33" fill="#ffffa0"/>
<rect x="621.48" y="235.53" width="6.96" height="7.33" fill="#ffffff"/>
<rect x="628.44" y="235.53" width="6.96" height="7.33" fill="#ffffd5"/>
<rect x="468.30" y="242.86" width="6.96" height="7.33" fill="#ffffa9"/>
<rect x="475.26" y="242.86" width="6.96" height="7.33" fill="#ffffa9"/>
<rect x="482.23" y="242.86" width="6.96" height="7.33" fill="#ffffa9"/>
<rect x="489.19" y="242.86" width="6.96" height="7.33" fill="#ffffa9"/>
<rect x="496.15" y="242.86" width="6.96" height="7.33" fill="#ffffa9"/>
<rect x="503.11" y="242.86" width="6.96" height="7.33" fill="#ffffa9"/>
<rect x="510.08" y="242.86" width="6.96" height="7.33" fill="#ffffa9"/>
<rect x="517.04" y="242.86" width="6.96" height="7.33" fill="#ffffa9"/>
<rect x="524.00" y="242.86" width="6.96" height="7.33" fill="#ffff94"/>
<rect x="530.96" y="242.86" width="6.96" height="7.33" fill="#ffff94"/>
<rect x="537.92" y="242.86" width="6.96" height="7.33" fill="#ffff94"/>
<rect x="544.89" y="242.86" width="6.96" height="7.33" fill="#ffff94"/>
<rect x="551.85" y="242.86" width="6.96" height="7.33" fill="#ffff77"/>
<rect x="558.81" y="242.86" width="6.96" height="7.33" fill="#ffff77"/>
<rect x="565.77" y="242.86" width="6.96" height="7.33" fill="#ffff88"/>
<rect x="572.74" y="242.86" width="6.96" height="7.33" fill="#ffff88"/>
<rect x="579.70" y="242.86" width="6.96" height="7.33" fill="#ffff88"/>
<rect x="586.66" y="242.86" width="6.96" height="7.33" fill="#ffff88"/>
<rect x="593.62" y="242.86" width="6.96" height="7.33" fill="#ff7a00"/>
<rect x="600.59" y="242.86" width="6.96" height="7.33" fill="#ffffa0"/>
<rect x="607.55" y="242.86" width="6.96" height="7.33" fill="#ffffa0"/>
<rect x="614.51" y="242.86" width="6.96" height="7.33" fill="#ffffa0"/>
<rect x="621.48" y="242.86" width="6.96" height="7.33" fill="#ffffd5"/>
<rect x="628.44" y="242.86" width="6.96" height="7.33" fill="#ffffff"/>
<path d="M468.30 74.2V250.19M468.3 74.20H635.40M475.26 74.2V250.19M468.3 81.53H635.40M482.23 74.2V250.19M468.3 88.87H635.40M489.19 74.2V250.19M468.3 96.20H635.40M496.15 74.2V250.19M468.3 103.53H635.40M503.11 74.2V250.19M468.3 110.87H635.40M510.08 74.2V250.19M468.3 118.20H635.40M517.04 74.2V250.19M468.3 125.53H635.40M524.00 74.2V250.19M468.3 132.86H635.40M530.96 74.2V250.19M468.3 140.20H635.40M537.92 74.2V250.19M468.3 147.53H635.40M544.89 74.2V250.19M468.3 154.86H635.40M551.85 74.2V250.19M468.3 162.20H635.40M558.81 74.2V250.19M468.3 169.53H635.40M565.77 74.2V250.19M468.3 176.86H635.40M572.74 74.2V250.19M468.3 184.19H635.40M579.70 74.2V250.19M468.3 191.53H635.40M586.66 74.2V250.19M468.3 198.86H635.40M593.62 74.2V250.19M468.3 206.19H635.40M600.59 74.2V250.19M468.3 213.53H635.40M607.55 74.2V250.19M468.3 220.86H635.40M614.51 74.2V250.19M468.3 228.19H635.40M621.48 74.2V250.19M468.3 235.53H635.40M628.44 74.2V250.19M468.3 242.86H635.40M635.40 74.2V250.19M468.3 250.19H635.40" stroke="#a0a0a0" stroke-width="0.85" fill="none"/>
<text transform="translate(637.8,80.87) scale(0.86,1)" font-size="8.2" fill="#111">TO1a</text>
<text transform="translate(637.8,88.20) scale(0.86,1)" font-size="8.2" fill="#111">TO2a</text>
<text transform="translate(637.8,95.53) scale(0.86,1)" font-size="8.2" fill="#111">BI1a</text>
<text transform="translate(637.8,102.87) scale(0.86,1)" font-size="8.2" fill="#111">AL2a</text>
<text transform="translate(637.8,110.20) scale(0.86,1)" font-size="8.2" fill="#111">TO4a</text>
<text transform="translate(637.8,117.53) scale(0.86,1)" font-size="8.2" fill="#111">TOBc</text>
<text transform="translate(637.8,124.86) scale(0.86,1)" font-size="8.2" fill="#111">SV2a</text>
<text transform="translate(637.8,132.20) scale(0.86,1)" font-size="8.2" fill="#111">TO5a</text>
<text transform="translate(637.8,139.53) scale(0.86,1)" font-size="8.2" fill="#111">VC2a</text>
<text transform="translate(637.8,146.86) scale(0.86,1)" font-size="8.2" fill="#111">CNc</text>
<text transform="translate(637.8,154.20) scale(0.86,1)" font-size="8.2" fill="#111">SV1a</text>
<text transform="translate(637.8,161.53) scale(0.86,1)" font-size="8.2" fill="#111">VVCOc</text>
<text transform="translate(637.8,168.86) scale(0.86,1)" font-size="8.2" fill="#111">AL1a</text>
<text transform="translate(637.8,176.20) scale(0.86,1)" font-size="8.2" fill="#111">AT1a</text>
<text transform="translate(637.8,183.53) scale(0.86,1)" font-size="8.2" fill="#111">AT2a</text>
<text transform="translate(637.8,190.86) scale(0.86,1)" font-size="8.2" fill="#111">VC1a</text>
<text transform="translate(637.8,198.19) scale(0.86,1)" font-size="8.2" fill="#111">CNa</text>
<text transform="translate(637.8,205.53) scale(0.86,1)" font-size="8.2" fill="#111">NOa</text>
<text transform="translate(637.8,212.86) scale(0.86,1)" font-size="8.2" fill="#111">SPa</text>
<text transform="translate(637.8,220.19) scale(0.86,1)" font-size="8.2" fill="#111">GE2a</text>
<text transform="translate(637.8,227.53) scale(0.86,1)" font-size="8.2" fill="#111">ALa</text>
<text transform="translate(637.8,234.86) scale(0.86,1)" font-size="8.2" fill="#111">IMa</text>
<text transform="translate(637.8,242.19) scale(0.86,1)" font-size="8.2" fill="#111">GE1a</text>
<text transform="translate(637.8,249.53) scale(0.86,1)" font-size="8.2" fill="#111">SV3a</text>
<text transform="translate(468.68,252.3) rotate(90) scale(0.86,1)" font-size="8.2" fill="#111">TO1a</text>
<text transform="translate(475.64,252.3) rotate(90) scale(0.86,1)" font-size="8.2" fill="#111">TO2a</text>
<text transform="translate(482.61,252.3) rotate(90) scale(0.86,1)" font-size="8.2" fill="#111">BI1a</text>
<text transform="translate(489.57,252.3) rotate(90) scale(0.86,1)" font-size="8.2" fill="#111">AL2a</text>
<text transform="translate(496.53,252.3) rotate(90) scale(0.86,1)" font-size="8.2" fill="#111">TO4a</text>
<text transform="translate(503.49,252.3) rotate(90) scale(0.86,1)" font-size="8.2" fill="#111">TOBc</text>
<text transform="translate(510.46,252.3) rotate(90) scale(0.86,1)" font-size="8.2" fill="#111">SV2a</text>
<text transform="translate(517.42,252.3) rotate(90) scale(0.86,1)" font-size="8.2" fill="#111">TO5a</text>
<text transform="translate(524.38,252.3) rotate(90) scale(0.86,1)" font-size="8.2" fill="#111">VC2a</text>
<text transform="translate(531.34,252.3) rotate(90) scale(0.86,1)" font-size="8.2" fill="#111">CNc</text>
<text transform="translate(538.31,252.3) rotate(90) scale(0.86,1)" font-size="8.2" fill="#111">SV1a</text>
<text transform="translate(545.27,252.3) rotate(90) scale(0.86,1)" font-size="8.2" fill="#111">VVCOc</text>
<text transform="translate(552.23,252.3) rotate(90) scale(0.86,1)" font-size="8.2" fill="#111">AL1a</text>
<text transform="translate(559.19,252.3) rotate(90) scale(0.86,1)" font-size="8.2" fill="#111">AT1a</text>
<text transform="translate(566.16,252.3) rotate(90) scale(0.86,1)" font-size="8.2" fill="#111">AT2a</text>
<text transform="translate(573.12,252.3) rotate(90) scale(0.86,1)" font-size="8.2" fill="#111">VC1a</text>
<text transform="translate(580.08,252.3) rotate(90) scale(0.86,1)" font-size="8.2" fill="#111">CNa</text>
<text transform="translate(587.04,252.3) rotate(90) scale(0.86,1)" font-size="8.2" fill="#111">NOa</text>
<text transform="translate(594.01,252.3) rotate(90) scale(0.86,1)" font-size="8.2" fill="#111">SPa</text>
<text transform="translate(600.97,252.3) rotate(90) scale(0.86,1)" font-size="8.2" fill="#111">GE2a</text>
<text transform="translate(607.93,252.3) rotate(90) scale(0.86,1)" font-size="8.2" fill="#111">ALa</text>
<text transform="translate(614.89,252.3) rotate(90) scale(0.86,1)" font-size="8.2" fill="#111">IMa</text>
<text transform="translate(621.86,252.3) rotate(90) scale(0.86,1)" font-size="8.2" fill="#111">GE1a</text>
<text transform="translate(628.82,252.3) rotate(90) scale(0.86,1)" font-size="8.2" fill="#111">SV3a</text>
<defs><linearGradient id="cb" x1="0" y1="1" x2="0" y2="0"><stop offset="0" stop-color="#ffffff"/><stop offset="0.3333" stop-color="#ffff00"/><stop offset="0.6667" stop-color="#ffa500"/><stop offset="1" stop-color="#ff0000"/></linearGradient></defs>
<rect x="666.1" y="74.2" width="6.9" height="106.6" fill="url(#cb)"/>
<text transform="translate(676.7,90.51) scale(0.86,1)" font-size="8.2" fill="#111">15</text>
<text transform="translate(676.7,121.57) scale(0.86,1)" font-size="8.2" fill="#111">10</text>
<text transform="translate(676.7,152.64) scale(0.86,1)" font-size="8.2" fill="#111">5</text>
<text transform="translate(676.7,183.70) scale(0.86,1)" font-size="8.2" fill="#111">0</text>
<path d="M478.74 74.20L478.74 73.90M485.71 74.20L485.71 73.90M478.74 73.90L485.71 73.90M482.23 73.90L482.23 73.70M492.67 74.20L492.67 73.70M482.23 73.70L492.67 73.70M471.78 74.20L471.78 73.20M487.45 73.70L487.45 73.20M471.78 73.20L487.45 73.20M506.59 74.20L506.59 74.05M513.56 74.20L513.56 74.05M506.59 74.05L513.56 74.05M499.63 74.20L499.63 73.95M510.08 74.05L510.08 73.95M499.63 73.95L510.08 73.95M520.52 74.20L520.52 74.05M527.48 74.20L527.48 74.05M520.52 74.05L527.48 74.05M534.44 74.20L534.44 74.00M541.41 74.20L541.41 74.00M534.44 74.00L541.41 74.00M524.00 74.05L524.00 73.90M537.92 74.00L537.92 73.90M524.00 73.90L537.92 73.90M504.85 73.95L504.85 73.75M530.96 73.90L530.96 73.75M504.85 73.75L530.96 73.75M517.91 73.75L517.91 73.20M548.37 74.20L548.37 73.20M517.91 73.20L548.37 73.20M562.29 74.20L562.29 74.00M569.26 74.20L569.26 74.00M562.29 74.00L569.26 74.00M583.18 74.20L583.18 74.00M590.14 74.20L590.14 74.00M583.18 74.00L590.14 74.00M576.22 74.20L576.22 73.90M586.66 74.00L586.66 73.90M576.22 73.90L586.66 73.90M565.77 74.00L565.77 73.80M581.44 73.90L581.44 73.80M565.77 73.80L581.44 73.80M555.33 74.20L555.33 73.20M573.61 73.80L573.61 73.20M555.33 73.20L573.61 73.20M533.14 73.20L533.14 71.60M564.47 73.20L564.47 71.60M533.14 71.60L564.47 71.60M479.61 73.20L479.61 67.50M548.80 71.60L548.80 67.50M479.61 67.50L548.80 67.50M611.03 74.20L611.03 73.30M617.99 74.20L617.99 73.30M611.03 73.30L617.99 73.30M604.07 74.20L604.07 72.50M614.51 73.30L614.51 72.50M604.07 72.50L614.51 72.50M624.96 74.20L624.96 72.60M631.92 74.20L631.92 72.60M624.96 72.60L631.92 72.60M609.29 72.50L609.29 68.00M628.44 72.60L628.44 68.00M609.29 68.00L628.44 68.00M597.11 74.20L597.11 53.80M618.86 68.00L618.86 53.80M597.11 53.80L618.86 53.80M514.21 67.50L514.21 36.95M607.99 53.80L607.99 36.95M514.21 36.95L607.99 36.95" stroke="#555" stroke-width="0.9" fill="none"/>
<path d="M468.30 85.20L468.00 85.20M468.30 92.53L468.00 92.53M468.00 85.20L468.00 92.53M468.00 88.87L467.80 88.87M468.30 99.87L467.80 99.87M467.80 88.87L467.80 99.87M468.30 77.87L467.30 77.87M467.80 94.37L467.30 94.37M467.30 77.87L467.30 94.37M468.30 114.53L468.15 114.53M468.30 121.86L468.15 121.86M468.15 114.53L468.15 121.86M468.30 107.20L468.05 107.20M468.15 118.20L468.05 118.20M468.05 107.20L468.05 118.20M468.30 129.20L468.15 129.20M468.30 136.53L468.15 136.53M468.15 129.20L468.15 136.53M468.30 143.86L468.10 143.86M468.30 151.20L468.10 151.20M468.10 143.86L468.10 151.20M468.15 132.86L468.00 132.86M468.10 147.53L468.00 147.53M468.00 132.86L468.00 147.53M468.05 112.70L467.85 112.70M468.00 140.20L467.85 140.20M467.85 112.70L467.85 140.20M467.85 126.45L467.30 126.45M468.30 158.53L467.30 158.53M467.30 126.45L467.30 158.53M468.30 173.20L468.10 173.20M468.30 180.53L468.10 180.53M468.10 173.20L468.10 180.53M468.30 195.19L468.10 195.19M468.30 202.53L468.10 202.53M468.10 195.19L468.10 202.53M468.30 187.86L468.00 187.86M468.10 198.86L468.00 198.86M468.00 187.86L468.00 198.86M468.10 176.86L467.90 176.86M468.00 193.36L467.90 193.36M467.90 176.86L467.90 193.36M468.30 165.86L467.30 165.86M467.90 185.11L467.30 185.11M467.30 165.86L467.30 185.11M467.30 142.49L465.70 142.49M467.30 175.49L465.70 175.49M465.70 142.49L465.70 175.49M467.30 86.12L461.60 86.12M465.70 158.99L461.60 158.99M461.60 86.12L461.60 158.99M468.30 224.53L467.40 224.53M468.30 231.86L467.40 231.86M467.40 224.53L467.40 231.86M468.30 217.19L466.60 217.19M467.40 228.19L466.60 228.19M466.60 217.19L466.60 228.19M468.30 239.19L466.70 239.19M468.30 246.53L466.70 246.53M466.70 239.19L466.70 246.53M466.60 222.69L462.10 222.69M466.70 242.86L462.10 242.86M462.10 222.69L462.10 242.86M468.30 209.86L447.90 209.86M462.10 232.78L447.90 232.78M447.90 209.86L447.90 232.78M461.60 122.55L431.05 122.55M447.90 221.32L431.05 221.32M431.05 122.55L431.05 221.32" stroke="#555" stroke-width="0.9" fill="none"/>
</svg>
</body></html>
